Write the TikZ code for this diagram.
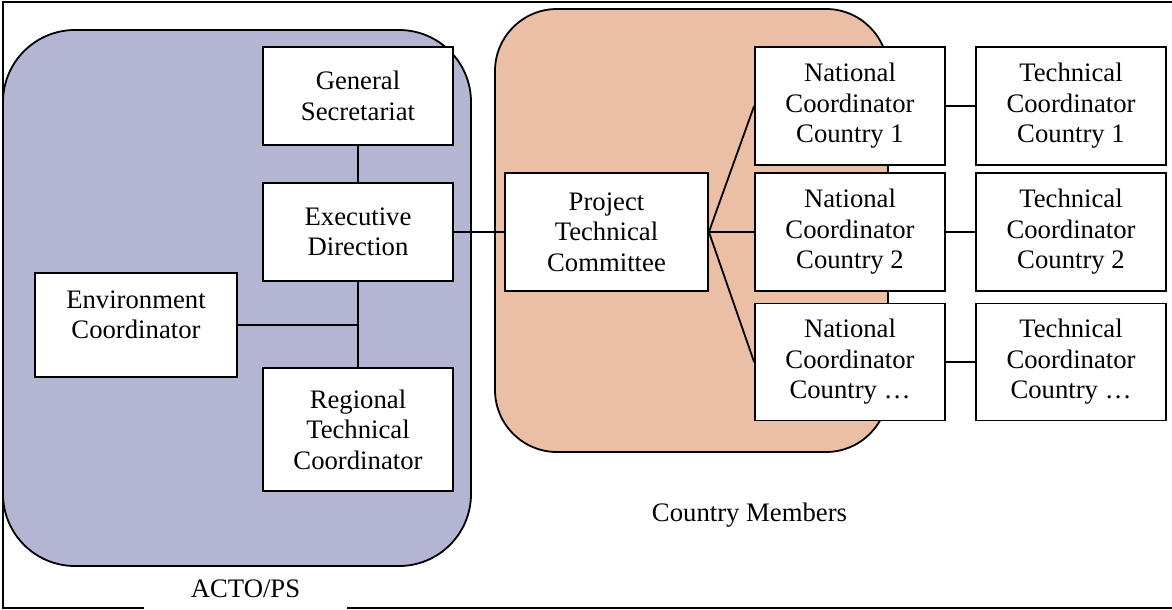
\documentclass[tikz,border=0pt]{standalone}
\usepackage{fontspec}
\setmainfont{Liberation Serif}
\definecolor{actoblue}{RGB}{180,181,211}
\definecolor{memberorange}{RGB}{235,191,166}
\begin{document}
\begin{tikzpicture}[x=1pt,y=-1pt,
  box/.style={draw, line width=1.8pt, fill=white, align=center, inner sep=2pt,
    font=\fontsize{26.7}{30.5}\selectfont},
  link/.style={line width=1.8pt},
  caption/.style={font=\fontsize{26.7}{30.5}\selectfont}]
\useasboundingbox (0,0) rectangle (1172,610);
% outer frame
\draw[line width=2.5pt] (1175,2) -- (3,2) -- (3,608) -- (1175,608);
% groups
\draw[line width=1.8pt, fill=actoblue, rounded corners=72pt] (3,30) rectangle (471,566);
\draw[line width=1.8pt, fill=memberorange, rounded corners=62pt] (495,9) rectangle (888,452);
% left group boxes
\node[box, minimum width=190pt, minimum height=98pt] (gs) at (358,96) {General\\Secretariat};
\node[box, minimum width=190pt, minimum height=98pt] (ed) at (358,232) {Executive\\Direction};
\node[box, minimum width=202pt, minimum height=104pt,
  label={[align=center, font=\fontsize{26.7}{30.5}\selectfont, yshift=10pt]center:Environment\\Coordinator}] (ec) at (136,325) {};
\node[box, minimum width=190pt, minimum height=123pt] (rtc) at (358,429.5) {Regional\\Technical\\Coordinator};
% middle
\node[box, minimum width=203pt, minimum height=118pt] (ptc) at (606.5,232) {Project\\Technical\\Committee};
% countries
\node[box, minimum width=190pt, minimum height=118pt] (nc1) at (850,106) {National\\Coordinator\\Country 1};
\node[box, minimum width=190pt, minimum height=118pt] (nc2) at (850,232) {National\\Coordinator\\Country 2};
\node[box, minimum width=190pt, minimum height=117pt] (nc3) at (850,362) {National\\Coordinator\\Country …};
\node[box, minimum width=190pt, minimum height=118pt] (tc1) at (1071,106) {Technical\\Coordinator\\Country 1};
\node[box, minimum width=190pt, minimum height=118pt] (tc2) at (1071,232) {Technical\\Coordinator\\Country 2};
\node[box, minimum width=190pt, minimum height=117pt] (tc3) at (1071,362) {Technical\\Coordinator\\Country …};
% connectors
\draw[link] (gs.south) -- (ed.north);
\draw[link] (ed.south) -- (rtc.north);
\draw[link] (ec.east) -- (ec.east -| ed.south);
\draw[link] (ed.east) -- (ptc.west);
\draw[link] (ptc.east) -- (nc1.west);
\draw[link] (ptc.east) -- (nc2.west);
\draw[link] (ptc.east) -- (nc3.west);
\draw[link] (nc1.east) -- (tc1.west);
\draw[link] (nc2.east) -- (tc2.west);
\draw[link] (nc3.east) -- (tc3.west);
% captions
\node[caption, fill=white, minimum width=203pt, minimum height=45pt] (acto) at (245.5,589) {ACTO/PS};
\node[caption] (members) at (749.5,515) {Country Members};
\end{tikzpicture}
\end{document}
